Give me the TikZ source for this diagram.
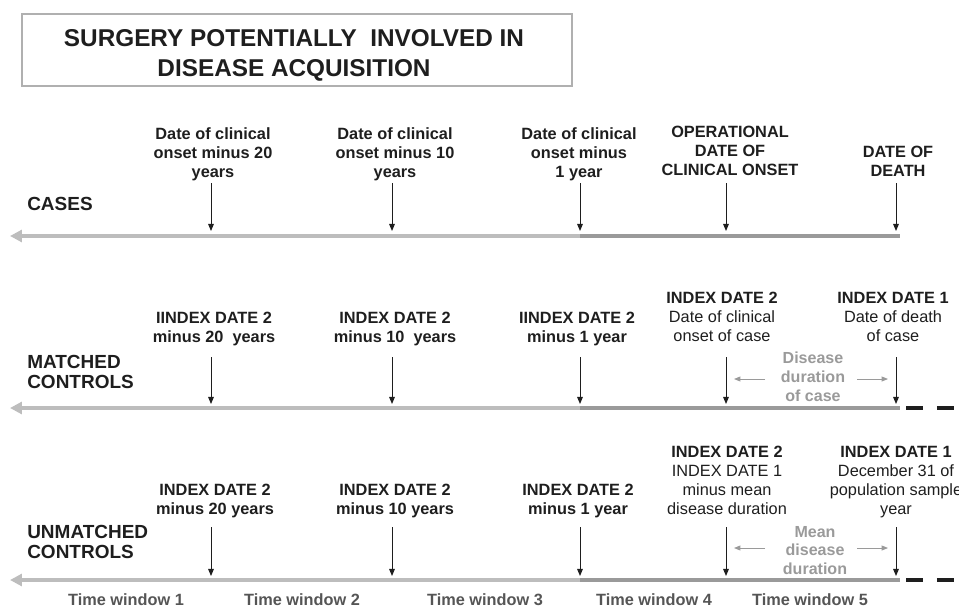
\documentclass[tikz,border=0pt]{standalone}
\usepackage{fontspec}
\setmainfont{Liberation Sans}
\usetikzlibrary{arrows.meta, positioning}
\definecolor{ink}{HTML}{1E1E1E}
\definecolor{linelight}{HTML}{BDBDBD}
\definecolor{linedark}{HTML}{9A9A9A}
\definecolor{durgray}{HTML}{9A9A9A}
\definecolor{wingray}{HTML}{555555}
\definecolor{boxgray}{HTML}{B0B0B0}

\begin{document}
\begin{tikzpicture}[x=0.025cm, y=-0.025cm, >=Stealth,
    lbl/.style={anchor=north, align=center, inner sep=0pt, text=ink, font=\fontsize{11.6}{13.6}\selectfont\bfseries},
    lblreg/.style={lbl, font=\fontsize{11.6}{13.4}\selectfont},
    rowlbl/.style={anchor=north west, align=left, inner sep=0pt, text=ink, font=\fontsize{13.5}{14.4}\selectfont\bfseries},
    durlbl/.style={lbl, text=durgray, font=\fontsize{11.4}{13.2}\selectfont\bfseries},
    winlbl/.style={anchor=base, inner sep=0pt, text=wingray, font=\fontsize{11.6}{13}\selectfont\bfseries},
    tick/.style={-{Triangle[length=5pt,width=4pt]}, line width=0.7pt, ink},
    durarrow/.style={-{Triangle[length=4.5pt,width=3.5pt]}, line width=0.6pt, durgray},
    tline/.style={line width=3pt, linelight, -{Triangle[length=8.5pt,width=8.5pt]}},
    tlinedark/.style={line width=3pt, linedark},
    tdash/.style={line width=3pt, ink, dash pattern=on 12pt off 10pt}]
    \useasboundingbox (0,0) rectangle (959,611);
    \clip (0,0) rectangle (959,611);

    % Title box
    \node[draw=boxgray, line width=1.4pt, minimum width=13.75cm, minimum height=1.8cm] (titlebox) at (297,50) {};
    \node[anchor=north, align=center, inner sep=0pt, text=ink, font=\fontsize{17.3}{21.3}\selectfont\bfseries] (title)
        at (294,29.5) {SURGERY POTENTIALLY~ INVOLVED IN\\DISEASE ACQUISITION};

    % Row labels
    \node[rowlbl] (cases) at (27,197) {CASES};
    \node[rowlbl] (matched) at (27,355) {MATCHED\\CONTROLS};
    \node[rowlbl] (unmatched) at (27,525) {UNMATCHED\\CONTROLS};

    % Time lines
    \foreach \r/\y in {1/236, 2/408, 3/580} {
        \coordinate (tip\r) at (10,\y);
        \coordinate (mid\r) at (580,\y);
        \coordinate (end\r) at (900,\y);
        \draw[tline] (mid\r) -- (tip\r);
        \draw[tlinedark] (mid\r) -- (end\r);
    }
    \draw[tdash] (end2) ++(6,0) -- ++(50,0);
    \draw[tdash] (end3) ++(6,0) -- ++(50,0);

    % Ticks
    \foreach \r/\ya/\yb in {1/183/231, 2/357/404, 3/527/576} {
        \foreach \x [count=\i] in {211,392,580,726,896} {
            \coordinate (top\r\i) at (\x,\ya);
            \coordinate (bot\r\i) at (\x,\yb);
            \draw[tick] (top\r\i) -- (bot\r\i);
        }
    }

    % Cases
    \node[lbl] (c1) at (213,127) {Date of clinical\\onset minus 20\\years};
    \node[lbl] (c2) at (395,127) {Date of clinical\\onset minus 10\\years};
    \node[lbl] (c3) at (579,127) {Date of clinical\\onset minus\\1 year};
    \node[lbl] (c4) at (730,126) {OPERATIONAL\\DATE OF\\CLINICAL ONSET};
    \node[lbl] (c5) at (898,146) {DATE OF\\DEATH};

    % Matched controls
    \node[lbl] (m1) at (214,312) {IINDEX DATE 2\\minus 20~ years};
    \node[lbl] (m2) at (395,312) {INDEX DATE 2\\minus 10~ years};
    \node[lbl] (m3) at (577,312) {IINDEX DATE 2\\minus 1 year};
    \node[lblreg] (m4) at (722,292) {\textbf{INDEX DATE 2}\\Date of clinical\\onset of case};
    \node[lblreg] (m5) at (893,292) {\textbf{INDEX DATE 1}\\Date of death\\of case};
    \node[durlbl] (mdur) at (813,352) {Disease\\duration\\of case};
    \coordinate (mla) at (765,379);
    \coordinate (mlb) at (734,379);
    \coordinate (mra) at (857,379);
    \coordinate (mrb) at (888,379);
    \draw[durarrow] (mla) -- (mlb);
    \draw[durarrow] (mra) -- (mrb);

    % Unmatched controls
    \node[lbl] (u1) at (215,484) {INDEX DATE 2\\minus 20 years};
    \node[lbl] (u2) at (395,484) {INDEX DATE 2\\minus 10 years};
    \node[lbl] (u3) at (578,484) {INDEX DATE 2\\minus 1 year};
    \node[lblreg] (u4) at (727,446) {\textbf{INDEX DATE 2}\\INDEX DATE 1\\minus mean\\disease duration};
    \node[lblreg] (u5) at (896,446) {\textbf{INDEX DATE 1}\\December 31 of\\population sample\\year};
    \node[durlbl] (udur) at (815,526) {Mean\\disease\\duration};
    \coordinate (ula) at (765,548);
    \coordinate (ulb) at (734,548);
    \coordinate (ura) at (857,548);
    \coordinate (urb) at (888,548);
    \draw[durarrow] (ula) -- (ulb);
    \draw[durarrow] (ura) -- (urb);

    % Time windows
    \foreach \x [count=\i] in {126,302,485,654,810} {
        \node[winlbl] (w\i) at (\x,605) {Time window \i};
    }
\end{tikzpicture}
\end{document}
